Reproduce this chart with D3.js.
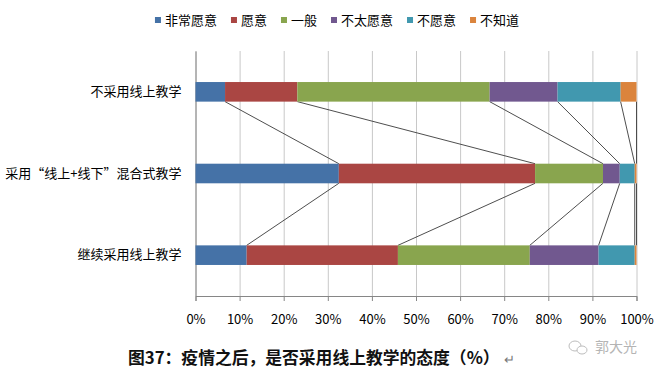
<!DOCTYPE html>
<html>
<head>
<meta charset="utf-8">
<script src="https://cdn.jsdelivr.net/npm/d3@7"></script>
<style>
  body { margin: 0; background: #fff; }
  text { font-family: "Noto Sans CJK SC", "Lato", sans-serif; }
</style>
</head>
<body>
<svg id="chart" width="670" height="380"></svg>
<script>
// categories, top to bottom as drawn
var categories = ["不采用线上教学", "采用“线上+线下”混合式教学", "继续采用线上教学"];
var seriesNames = ["非常愿意", "愿意", "一般", "不太愿意", "不愿意", "不知道"];
var colors = ["#4572A7", "#AA4643", "#89A54E", "#71588F", "#4198AF", "#DB843D"];
// percent values per category, same order as seriesNames
var notOnline = [6.7, 16.4, 43.6, 15.4, 14.3, 3.6];
var blended   = [32.5, 44.5, 15.4, 3.8, 3.4, 0.4];
var keepOnline = [11.6, 34.3, 29.9, 15.6, 8.2, 0.4];
var tickValues = [0, 0.1, 0.2, 0.3, 0.4, 0.5, 0.6, 0.7, 0.8, 0.9, 1];
var caption = "图37：疫情之后，是否采用线上教学的态度（%）";

var values = [notOnline, blended, keepOnline];

var svg = d3.select("#chart");
var plotLeft = 195.5, plotRight = 636.5, plotTop = 51, plotBottom = 296;

var x = d3.scaleLinear().domain([0, 1]).range([plotLeft, plotRight]);
var y = d3.scaleBand().domain(categories).range([plotTop, plotBottom])
          .paddingInner(0.76).paddingOuter(0.38);

// stacked rows
var rows = categories.map(function(c, i){
  var total = d3.sum(values[i]), acc = 0;
  return values[i].map(function(v, k){
    var s = { cat: c, k: k, x0: acc / total };
    acc += v;
    s.x1 = acc / total;
    return s;
  });
});

// gridlines
svg.append("g")
  .attr("transform", "translate(0," + plotBottom + ")")
  .call(d3.axisBottom(x).tickValues(tickValues).tickSize(-(plotBottom - plotTop)).tickFormat(""))
  .call(function(g){
    g.select(".domain").remove();
    g.selectAll(".tick line").attr("stroke", "#c8c8c8");
  });

// x axis
var xa = svg.append("g")
  .attr("transform", "translate(0," + plotBottom + ")")
  .call(d3.axisBottom(x).tickValues(tickValues).tickSize(5).tickPadding(14).tickFormat(d3.format(".0%")));
xa.select(".domain").attr("stroke", "#868686");
xa.selectAll(".tick line").attr("stroke", "#868686");
xa.selectAll(".tick text").attr("font-family", "Lato, 'Open Sans', sans-serif")
  .attr("font-size", 13).attr("fill", "#000");

// y axis
var ya = svg.append("g")
  .attr("transform", "translate(" + plotLeft + ",0)")
  .call(d3.axisLeft(y).tickSize(0).tickPadding(14));
ya.select(".domain").attr("stroke", "#868686");
ya.selectAll(".tick text").attr("font-size", 13).attr("fill", "#000");

// series lines between neighbouring bars
var links = [];
for (var i = 0; i < rows.length - 1; i++) {
  rows[i].forEach(function(s, k){
    links.push({ a: s, b: rows[i + 1][k] });
  });
}
svg.append("g").selectAll("line")
  .data(links).enter().append("line")
    .attr("x1", function(d){ return x(d.a.x1); })
    .attr("y1", function(d){ return y(d.a.cat) + y.bandwidth(); })
    .attr("x2", function(d){ return x(d.b.x1); })
    .attr("y2", function(d){ return y(d.b.cat); })
    .attr("stroke", "#3a3a3a")
    .attr("stroke-width", 0.9);

// bars
svg.append("g").selectAll("g")
  .data(rows).enter().append("g")
  .selectAll("rect")
  .data(function(d){ return d; }).enter().append("rect")
    .attr("x", function(d){ return x(d.x0); })
    .attr("y", function(d){ return y(d.cat); })
    .attr("width", function(d){ return x(d.x1) - x(d.x0); })
    .attr("height", y.bandwidth())
    .attr("fill", function(d){ return colors[d.k]; });

// legend
var legend = svg.append("g").attr("transform", "translate(0,20)");
var items = legend.selectAll("g").data(seriesNames).enter().append("g");
items.append("rect").attr("y", -3).attr("width", 6).attr("height", 6)
  .attr("fill", function(d, i){ return colors[i]; });
items.append("text").attr("x", 10).attr("dy", "0.35em")
  .attr("font-size", 13).attr("fill", "#000").text(function(d){ return d; });
var lx = 0;
items.each(function(){
  var w = d3.select(this).select("text").node().getComputedTextLength();
  d3.select(this).attr("transform", "translate(" + lx + ",0)");
  lx += 10 + w + 14;
});
lx -= 14;
legend.attr("transform", "translate(" + (337 - lx / 2) + ",20)");

// caption
var cap = svg.append("text")
  .attr("x", 128).attr("y", 364)
  .attr("font-size", 16.8).attr("font-weight", "bold").attr("fill", "#111")
  .text(caption);
var capEnd = 128 + cap.node().getComputedTextLength();
svg.append("text")
  .attr("x", capEnd + 4).attr("y", 364)
  .attr("font-size", 13).attr("fill", "#777").text("↵");

// watermark
var wm = svg.append("g").attr("transform", "translate(575,346)").attr("opacity", 0.55);
wm.append("ellipse").attr("cx", 0).attr("cy", 0).attr("rx", 6).attr("ry", 5)
  .attr("fill", "none").attr("stroke", "#888");
wm.append("ellipse").attr("cx", 7).attr("cy", 4).attr("rx", 5).attr("ry", 4)
  .attr("fill", "#fff").attr("stroke", "#888");
wm.append("text").attr("x", 20).attr("dy", "0.4em")
  .attr("font-size", 14).attr("fill", "#777").text("郭大光");
</script>
</body>
</html>
